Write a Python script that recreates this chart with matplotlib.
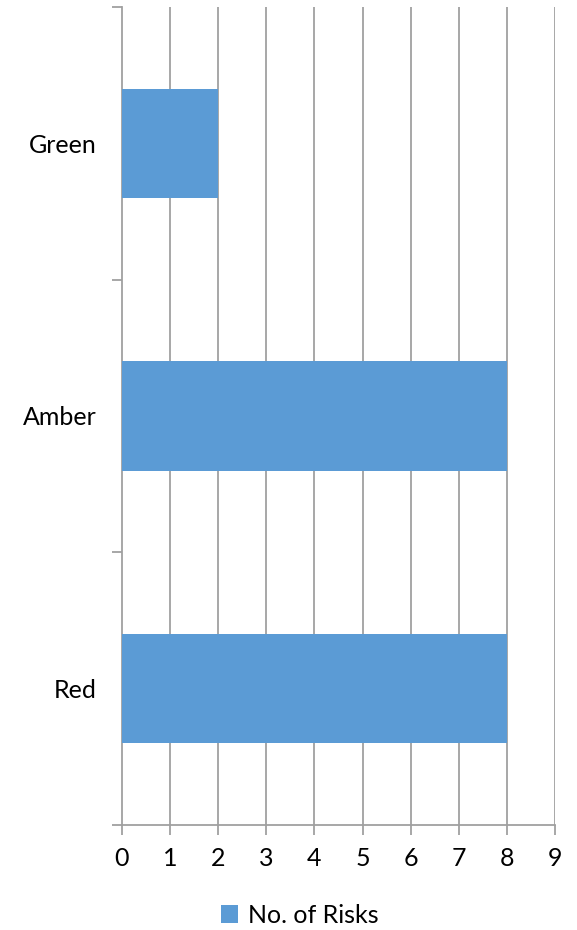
import matplotlib
matplotlib.use('Agg')
import matplotlib.pyplot as plt
import numpy as np

# risk counts by RAG status
categories = ['Red', 'Amber', 'Green']
risks = [8, 8, 2]
x_ticks = list(range(0, 10))

plt.rcParams['font.family'] = ['Lato', 'DejaVu Sans']

fig = plt.figure(figsize=(5.77, 9.3), dpi=100)
ax = fig.add_axes([0.2114, 0.1129, 0.7504, 0.8796])

grid_col = '#a0a0a0'
pos = np.arange(len(categories))
ax.barh(pos, risks, height=0.4, color='#5b9bd5', zorder=3, label='No. of Risks')

ax.set_xlim(0, 9)
ax.set_ylim(-0.5, len(categories) - 0.5)
ax.set_xticks(x_ticks)
ax.set_xticklabels([str(t) for t in x_ticks], fontsize=18)
for t in x_ticks[1:]:
    ax.axvline(t, color=grid_col, lw=1.3, zorder=1)

# category labels sit between the boundary ticks
ax.set_yticks(np.arange(-0.5, len(categories), 1.0))
ax.set_yticklabels([])
ax.set_yticks(pos, minor=True)
ax.set_yticklabels(categories, minor=True, fontsize=18)
ax.tick_params(axis='y', which='minor', length=0, pad=18)
ax.tick_params(axis='y', which='major', length=7, width=1.3, color=grid_col)
ax.tick_params(axis='x', length=7, width=1.3, color=grid_col, pad=9)

for s in ['top', 'right']:
    ax.spines[s].set_visible(False)
for s in ['left', 'bottom']:
    ax.spines[s].set_color(grid_col)
    ax.spines[s].set_linewidth(1.3)

fig.legend(loc='center', bbox_to_anchor=(0.52, 0.016), frameon=False,
           fontsize=18, handlelength=0.7, handleheight=0.7, handletextpad=0.4)

fig.savefig('out.png', dpi=100)
